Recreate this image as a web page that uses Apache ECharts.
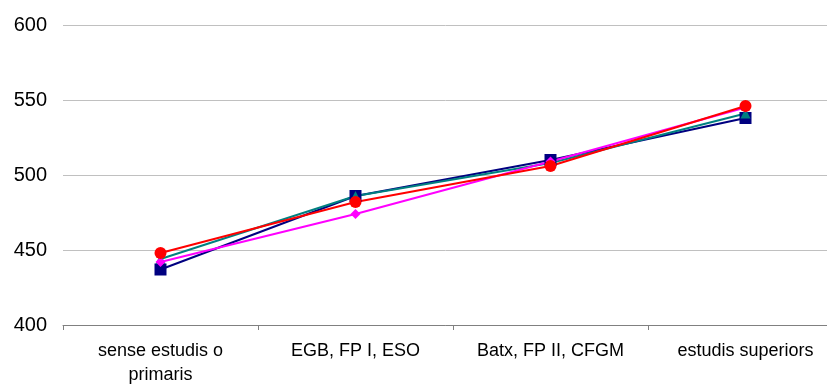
<!DOCTYPE html>
<html><head><meta charset="utf-8">
<script src="https://cdn.jsdelivr.net/npm/echarts@6/dist/echarts.min.js"></script>
<style>html,body{margin:0;padding:0;background:#fff}#c{width:827px;height:385px}</style>
</head><body><div id="c"></div>
<script>
const categories = ['sense estudis o\nprimaris', 'EGB, FP I, ESO', 'Batx, FP II, CFGM', 'estudis superiors'];
const seriesNavy = [437, 486, 510, 538];
const seriesTeal = [444, 486, 508, 541];
const seriesMagenta = [442, 474, 509, 545];
const seriesRed = [448, 482, 506, 546];
const yTicks = [400, 450, 500, 550, 600];

const font = 'Liberation Sans, Arial, sans-serif';
function mk(data, color, symbol, size) {
  return { type: 'line', data: data, symbol: symbol, symbolSize: size, showSymbol: true,
    lineStyle: { color: color, width: 2 }, itemStyle: { color: color }, animation: false };
}
const chart = echarts.init(document.getElementById('c'));
chart.setOption({
  animation: false,
  grid: { left: 63, width: 780, top: 25, height: 300, outerBoundsMode: 'none', containLabel: false },
  xAxis: { type: 'category', data: categories, boundaryGap: true,
    axisLine: { lineStyle: { color: '#808080', width: 1 } },
    axisTick: { show: true, length: 5, lineStyle: { color: '#808080' } },
    axisLabel: { color: '#000', fontFamily: font, fontSize: 18, margin: 14, lineHeight: 24, interval: 0 } },
  yAxis: { type: 'value', min: yTicks[0], max: yTicks[yTicks.length-1], interval: 50,
    axisLine: { show: false }, axisTick: { show: false },
    splitLine: { lineStyle: { color: '#c0c0c0', width: 1 } },
    axisLabel: { color: '#000', fontFamily: font, fontSize: 20, margin: 16 } },
  series: [
    mk(seriesNavy, '#000080', 'rect', 12),
    mk(seriesTeal, '#008080', 'triangle', 10),
    mk(seriesMagenta, '#FF00FF', 'diamond', 10),
    mk(seriesRed, '#FF0000', 'circle', 12)
  ]
});
</script></body></html>
